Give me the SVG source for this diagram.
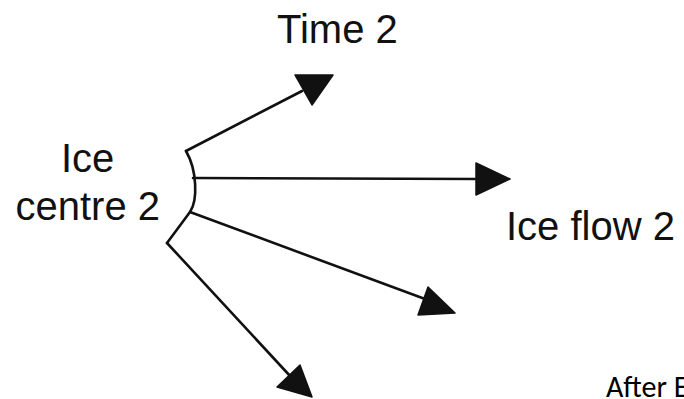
<svg xmlns="http://www.w3.org/2000/svg" width="684" height="399" viewBox="0 0 684 399">
  <style>
    .lbl { font-family: "Liberation Sans", Arial, sans-serif; font-size: 40px; fill: #111; }
    .note { font-family: Carlito, Calibri, "Open Sans", sans-serif; font-size: 30px; fill: #000; }
    .line { fill: none; stroke: #111; stroke-width: 2.6; stroke-linecap: round; stroke-linejoin: round; }
    .head { fill: #111; stroke: #111; stroke-width: 1.5; stroke-linejoin: round; }
  </style>
  <rect width="684" height="399" fill="#fff"/>

  <g id="ice-centre">
    <text class="lbl" x="61" y="172">Ice</text>
    <text class="lbl" x="15.5" y="220">centre 2</text>
    <path class="line" d="M186,151 C197,170 198,200 190,212 L167,243"/>
  </g>

  <g id="time-label">
    <text class="lbl" x="277" y="43">Time 2</text>
  </g>

  <g id="flow-label">
    <text class="lbl" x="506" y="240">Ice flow 2</text>
  </g>

  <g id="connectors">
    <!-- upper flow -->
    <path class="line" d="M186,151 L302,91"/>
    <polygon class="head" points="295,75 333,75 312,105"/>
    <!-- middle flow -->
    <path class="line" d="M193,178 L478,179"/>
    <polygon class="head" points="476,163 510,179 476,195"/>
    <!-- lower flow -->
    <path class="line" d="M190,212 L425,299"/>
    <polygon class="head" points="428,287 455,313 418,315"/>
    <!-- lowest flow -->
    <path class="line" d="M167,243 L291,377"/>
    <polygon class="head" points="300,365 312,397 277,387"/>
  </g>

  <g id="caption">
    <text class="note" x="606" y="397">After E</text>
  </g>
</svg>
